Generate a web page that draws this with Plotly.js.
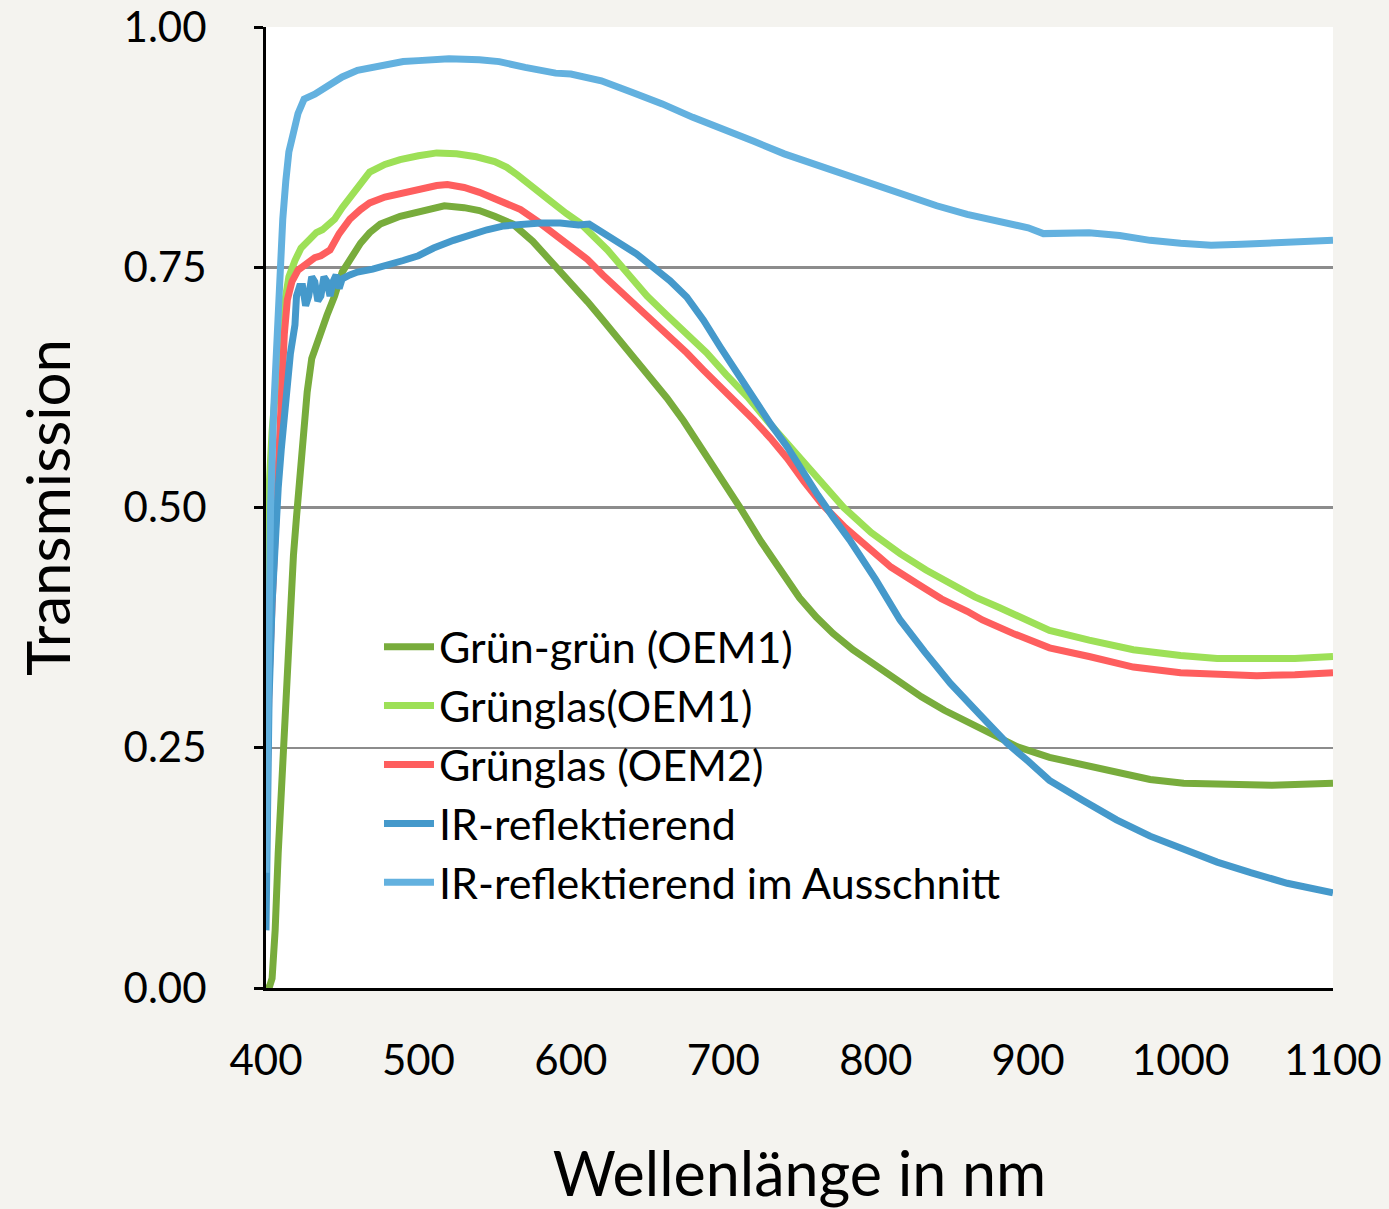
<!DOCTYPE html>
<html>
<head>
<meta charset="utf-8">
<script src="https://cdn.plot.ly/plotly-3.0.1.min.js"></script>
<style>html,body{margin:0;padding:0;background:#f4f3ef;}</style>
</head>
<body>
<div id="chart" style="width:1389px;height:1209px;"></div>
<script>
// Series names
const names = ["Grün-grün (OEM1)", "Grünglas(OEM1)", "Grünglas (OEM2)", "IR-reflektierend", "IR-reflektierend im Ausschnitt"];

// Grün-grün (OEM1)
const wlGG = [400,402,404,406,408,410,412,414,416,418,420,422,424,427,430,434,440,445,450,456,462,468,475,488,500,510,517,530,540,550,562,575,588,600,611,621,632,643,654,663,674,685,697,711,725,739,750,761,772,785,800,816,830,845,860,875,893,914,935,958,980,1002,1034,1060,1080,1100];
const tGG  = [0,0,0.01,0.06,0.14,0.21,0.28,0.34,0.39,0.45,0.49,0.53,0.58,0.62,0.655,0.675,0.70,0.72,0.745,0.76,0.775,0.786,0.795,0.803,0.808,0.812,0.814,0.812,0.809,0.803,0.795,0.777,0.755,0.733,0.714,0.695,0.674,0.654,0.633,0.614,0.59,0.564,0.535,0.50,0.464,0.43,0.406,0.386,0.369,0.352,0.335,0.318,0.303,0.289,0.277,0.265,0.251,0.240,0.233,0.224,0.217,0.213,0.211,0.211,0.212,0.213];

// Grünglas(OEM1)
const wlG1 = [400,401,402,404,406,408,410,412.5,415,419,423,428,433,437,441,445,450,456,462,468,478,488,500,512,525,538,550,558,565,571,580,588,597,606,615,624,637,650,663,676,689,702,716,729,742,757,770,779,797,816,833,849,865,881,898,914,940,969,1000,1024,1050,1075,1100];
const tG1  = [0.30,0.45,0.52,0.58,0.625,0.655,0.69,0.716,0.74,0.757,0.77,0.778,0.786,0.789,0.795,0.80,0.812,0.825,0.838,0.849,0.857,0.862,0.866,0.869,0.868,0.865,0.860,0.854,0.846,0.839,0.828,0.817,0.806,0.796,0.782,0.768,0.744,0.72,0.70,0.68,0.661,0.638,0.615,0.59,0.567,0.54,0.516,0.50,0.474,0.452,0.435,0.421,0.407,0.396,0.384,0.372,0.362,0.352,0.346,0.343,0.343,0.343,0.345];

// Grünglas (OEM2)
const wlG2 = [400,401,402,404,406,407,409,410.5,412,414,417,421,425,428,432,436,442,448,455,462,468,478,488,500,512,519,530,540,553,567,578,588,600,611,621,632,643,654,665,676,687,698,708,720,731,742,753,765,780,794,810,827,843,860,870,890,914,940,969,1000,1024,1050,1075,1100];
const tG2  = [0.15,0.25,0.32,0.40,0.47,0.508,0.58,0.646,0.68,0.716,0.735,0.747,0.752,0.757,0.76,0.762,0.768,0.785,0.80,0.81,0.817,0.823,0.827,0.832,0.835,0.836,0.833,0.828,0.82,0.81,0.798,0.786,0.772,0.758,0.742,0.726,0.711,0.695,0.678,0.661,0.643,0.626,0.609,0.591,0.572,0.551,0.527,0.503,0.479,0.459,0.438,0.421,0.405,0.392,0.383,0.369,0.354,0.345,0.334,0.328,0.326,0.325,0.326,0.328];

// IR-reflektierend
const wlIR = [400,401,402,404,406,408,410,412,414,416,418,419,420,422,424,426,428,430,432,434,436,438,440,442,444,446,448,450,455,460,470,480,490,500,510,523,535,545,556,567,580,593,605,612,620,632,643,654,665,676,687,698,708,720,731,742,752,762,772,783,800,816,832,849,868,886,900,914,936,958,980,1002,1024,1046,1070,1100];
const tIR  = [0.06,0.2,0.3,0.4,0.47,0.52,0.56,0.6,0.64,0.66,0.68,0.69,0.72,0.73,0.73,0.71,0.72,0.74,0.735,0.715,0.72,0.74,0.735,0.72,0.735,0.742,0.728,0.738,0.742,0.745,0.748,0.752,0.757,0.762,0.77,0.778,0.785,0.789,0.793,0.795,0.796,0.796,0.794,0.795,0.787,0.775,0.764,0.75,0.736,0.719,0.695,0.667,0.642,0.613,0.587,0.563,0.537,0.513,0.49,0.466,0.425,0.383,0.35,0.317,0.285,0.255,0.236,0.216,0.195,0.175,0.158,0.144,0.131,0.12,0.109,0.099];

// IR-reflektierend im Ausschnitt
const wlIRA = [400,401,402,403,405,407,409,411,413,415,418,421,425,432,440,450,460,470,480,490,500,520,540,553,570,590,600,620,640,660,680,700,720,740,760,780,800,820,840,860,880,900,910,920,940,960,980,1000,1020,1040,1060,1080,1100];
const tIRA  = [0.12,0.3,0.42,0.5,0.6,0.68,0.75,0.80,0.84,0.87,0.89,0.91,0.925,0.93,0.938,0.948,0.955,0.958,0.962,0.964,0.965,0.967,0.966,0.964,0.958,0.952,0.951,0.944,0.932,0.92,0.906,0.894,0.881,0.868,0.857,0.847,0.836,0.824,0.814,0.805,0.798,0.791,0.785,0.785,0.786,0.783,0.778,0.775,0.773,0.774,0.775,0.777,0.778];

const xTicks = [400,500,600,700,800,900,1000,1100];
const yTicks = [0,0.25,0.5,0.75,1.0];
const yTickText = ["0.00","0.25","0.50","0.75","1.00"];

const colors = ["#78ac3c", "#9de057", "#fe5e5e", "#4599cb", "#63b1df"];
const xs = [wlGG, wlG1, wlG2, wlIR, wlIRA];
const ys = [tGG, tG1, tG2, tIR, tIRA];

const traces = names.map((n, i) => ({
  type: "scatter",
  mode: "lines",
  name: n,
  x: xs[i],
  y: ys[i],
  legendgroup: "g" + i,
  line: {color: colors[i], width: 7, shape: "linear"},
  hoverinfo: "skip"
}));

const layout = {
  width: 1389,
  height: 1209,
  paper_bgcolor: "#f4f3ef",
  plot_bgcolor: "#ffffff",
  margin: {l: 266, r: 56, t: 27, b: 221},
  showlegend: true,
  legend: {
    x: 0.1059, y: 0.391, xanchor: "left", yanchor: "top",
    bgcolor: "rgba(0,0,0,0)",
    font: {family: "Lato, 'Open Sans', sans-serif", size: 43, color: "#000"},
    itemwidth: 50,
    tracegroupgap: 0,
    traceorder: "grouped"
  },
  xaxis: {
    range: [400, 1100],
    tickvals: xTicks,
    ticktext: xTicks.map(String),
    showgrid: false,
    zeroline: false,
    showline: true, linecolor: "#000", linewidth: 3,
    ticks: "",
    ticklabelstandoff: 34,
    tickfont: {family: "Lato, sans-serif", size: 42, color: "#000"},
    title: {text: "Wellenlänge in nm", font: {family: "Lato, sans-serif", size: 61, color: "#000"}, standoff: 82},
    automargin: false
  },
  yaxis: {
    range: [0, 1],
    tickvals: yTicks,
    ticktext: yTickText,
    showgrid: true, gridcolor: "#8c8c8c", gridwidth: 2.5,
    zeroline: false,
    showline: true, linecolor: "#000", linewidth: 3,
    ticks: "outside", ticklen: 9, tickwidth: 3, tickcolor: "#000",
    ticklabelstandoff: 39,
    tickfont: {family: "Lato, sans-serif", size: 42, color: "#000"},
    title: {text: "Transmission", font: {family: "Lato, sans-serif", size: 60, color: "#000"}, standoff: 34},
    automargin: false
  }
};

Plotly.newPlot("chart", traces, layout, {displayModeBar: false, staticPlot: true});
</script>
</body>
</html>
